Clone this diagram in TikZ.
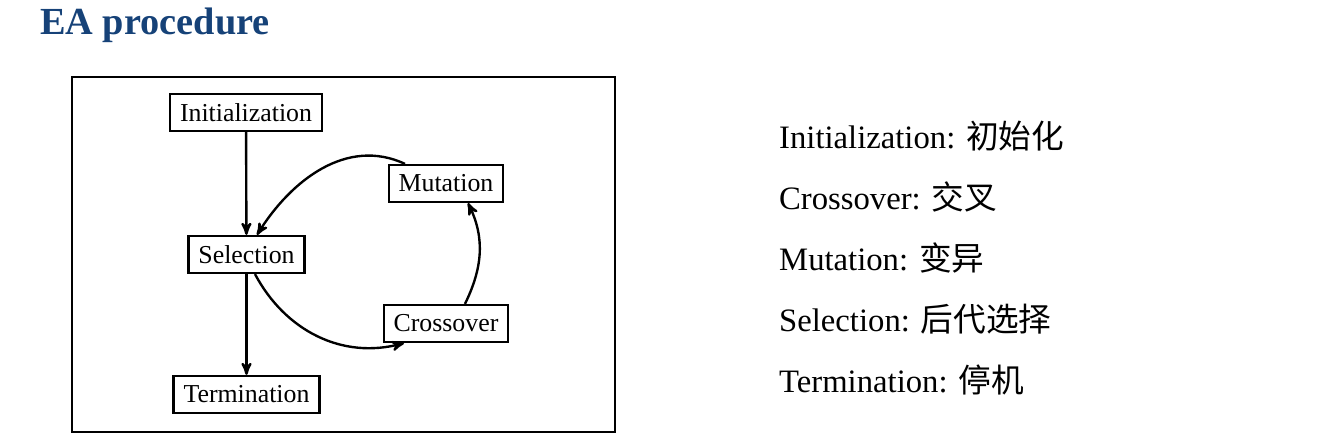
\documentclass[tikz,border=0pt]{standalone}
\usepackage{fontspec}
\setmainfont{Liberation Serif}
\newfontfamily\cjk{Noto Sans CJK SC}
\usetikzlibrary{arrows,positioning}
\definecolor{titleblue}{RGB}{22,66,120}
\begin{document}
\begin{tikzpicture}
  [
  font=\fontsize{14.7}{17}\selectfont, draw=black, >=stealth', line width=1.35pt,
  stage/.style={rectangle, minimum height=7.4mm, inner xsep=2mm, inner ysep=0pt, draw=black, line width=1.25pt},
  note/.style={anchor=base west, inner sep=0pt, font=\fontsize{18.6}{21}\selectfont}
  ]
\useasboundingbox (0,0) rectangle (26.52,8.76);

\node[anchor=base west, inner sep=0pt, font=\fontsize{21.8}{25}\selectfont\bfseries, text=titleblue] (title) at (0.78,8.06) {EA procedure};

\draw[line width=1.25pt] (1.44,0.12) rectangle (12.30,7.22);

\node[stage] (init) at (4.92,6.51) {Initialization};
\node[stage] (sel) at (4.93,3.67) {Selection};
\node[stage] (term) at (4.93,0.87) {Termination};
\node[stage] (mut) at (8.92,5.09) {Mutation};
\node[stage] (cross) at (8.92,2.29) {Crossover};

\draw[->] (init) -- (sel);
\draw[->] (sel) -- (term);

\draw[->] ([xshift=-8.2mm]mut.north) to[out=155,in=58] ([xshift=2.1mm]sel.north);
\draw[->] ([xshift=1.7mm]sel.south) to[out=-62,in=195] ([xshift=-8.4mm]cross.south);
\draw[->] ([xshift=3.8mm]cross.north) to[out=64,in=-64] ([xshift=4.4mm]mut.south);

\node[note] (n1) at (15.56,5.78) {Initialization: {\cjk 初始化}};
\node[note] (n2) at (15.56,4.56) {Crossover: {\cjk 交叉}};
\node[note] (n3) at (15.56,3.34) {Mutation: {\cjk 变异}};
\node[note] (n4) at (15.56,2.12) {Selection: {\cjk 后代选择}};
\node[note] (n5) at (15.56,0.90) {Termination: {\cjk 停机}};

\end{tikzpicture}
\end{document}
